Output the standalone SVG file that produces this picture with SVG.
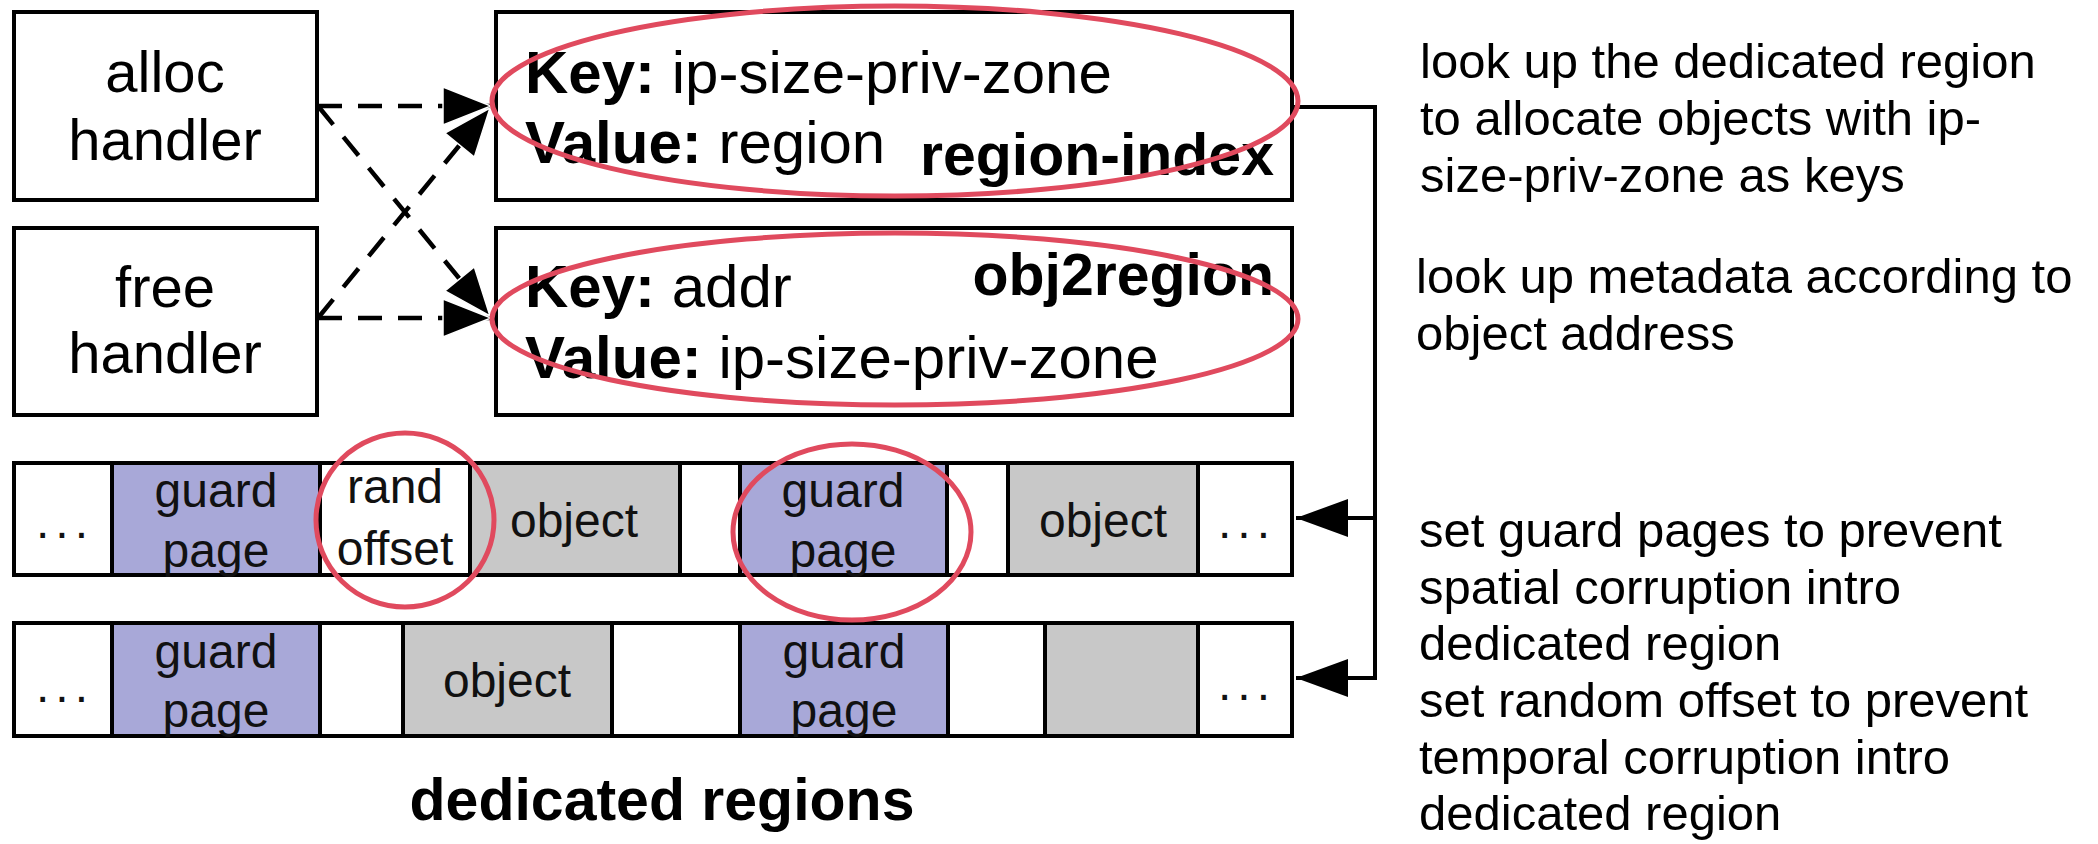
<svg xmlns="http://www.w3.org/2000/svg" width="2098" height="844" viewBox="0 0 2098 844">
  <style>
    .t{font-family:"Liberation Sans",Arial,Helvetica,sans-serif;fill:#000}
    .b{font-weight:bold}
    .h{font-size:58px}
    .k{font-size:60px}
    .c{font-size:48px;fill:#111}
    .n{font-size:49px}
    .box{fill:#fff;stroke:#000;stroke-width:4}
    .w{fill:#fff;stroke:#000;stroke-width:4}
    .g{fill:#c8c8c8;stroke:#000;stroke-width:4}
    .p{fill:#a8a8d8;stroke:#000;stroke-width:4}
    .dash{fill:none;stroke:#000;stroke-width:4.5;stroke-dasharray:24 16}
    .wire{fill:none;stroke:#000;stroke-width:4}
    .mark{fill:none;stroke:#e04a5e;stroke-width:5}
  </style>
  <defs>
    <marker id="tri" markerUnits="userSpaceOnUse" markerWidth="52" markerHeight="42" refX="49" refY="20" orient="auto">
      <path d="M1,1 L49,20 L1,39 z" fill="#000" stroke="#fff" stroke-width="1.5"/>
    </marker>
    <marker id="tri2" markerUnits="userSpaceOnUse" markerWidth="56" markerHeight="42" refX="53" refY="20" orient="auto">
      <path d="M1,1 L53,20 L1,39 z" fill="#000"/>
    </marker>
  </defs>

  <rect width="2098" height="844" fill="#fff"/>

  <!-- handlers -->
  <g id="alloc-handler">
    <rect class="box" x="14" y="12" width="303" height="188"/>
    <text class="t h" x="165" y="92" text-anchor="middle">alloc</text>
    <text class="t h" x="165" y="160" text-anchor="middle">handler</text>
  </g>
  <g id="free-handler">
    <rect class="box" x="14" y="228" width="303" height="187"/>
    <text class="t h" x="165" y="307" text-anchor="middle">free</text>
    <text class="t h" x="165" y="373" text-anchor="middle">handler</text>
  </g>

  <!-- lookup tables -->
  <g id="region-index">
    <rect class="box" x="496" y="12" width="796" height="188"/>
    <text class="t k" x="525" y="93"><tspan class="b">Key:</tspan> ip-size-priv-zone</text>
    <text class="t k" x="525" y="163"><tspan class="b">Value:</tspan> region</text>
    <text class="t b" font-size="59" x="1274" y="175" text-anchor="end">region-index</text>
  </g>
  <g id="obj2region">
    <rect class="box" x="496" y="228" width="796" height="187"/>
    <text class="t b" font-size="59" x="1274" y="295" text-anchor="end">obj2region</text>
    <text class="t k" x="525" y="307"><tspan class="b">Key:</tspan> addr</text>
    <text class="t k" x="525" y="378"><tspan class="b">Value:</tspan> ip-size-priv-zone</text>
  </g>

  <!-- dedicated region 1 -->
  <g id="region-row-1">
    <rect class="w" x="14" y="463" width="98" height="112"/>
    <rect class="p" x="112" y="463" width="208" height="112"/>
    <rect class="w" x="320" y="463" width="150" height="112"/>
    <rect class="g" x="470" y="463" width="210" height="112"/>
    <rect class="w" x="680" y="463" width="60" height="112"/>
    <rect class="p" x="740" y="463" width="207" height="112"/>
    <rect class="w" x="947" y="463" width="61" height="112"/>
    <rect class="g" x="1008" y="463" width="190" height="112"/>
    <rect class="w" x="1198" y="463" width="94" height="112"/>
    <text class="t c" x="65" y="538" text-anchor="middle" letter-spacing="6">...</text>
    <text class="t c" x="216" y="507" text-anchor="middle">guard</text>
    <text class="t c" x="216" y="567" text-anchor="middle">page</text>
    <text class="t c" x="395" y="503" text-anchor="middle">rand</text>
    <text class="t c" x="395" y="565" text-anchor="middle">offset</text>
    <text class="t c" x="574" y="537" text-anchor="middle">object</text>
    <text class="t c" x="843" y="507" text-anchor="middle">guard</text>
    <text class="t c" x="843" y="567" text-anchor="middle">page</text>
    <text class="t c" x="1103" y="537" text-anchor="middle">object</text>
    <text class="t c" x="1247" y="538" text-anchor="middle" letter-spacing="6">...</text>
  </g>

  <!-- dedicated region 2 -->
  <g id="region-row-2">
    <rect class="w" x="14" y="623" width="98" height="113"/>
    <rect class="p" x="112" y="623" width="208" height="113"/>
    <rect class="w" x="320" y="623" width="83" height="113"/>
    <rect class="g" x="403" y="623" width="209" height="113"/>
    <rect class="w" x="612" y="623" width="128" height="113"/>
    <rect class="p" x="740" y="623" width="208" height="113"/>
    <rect class="w" x="948" y="623" width="97" height="113"/>
    <rect class="g" x="1045" y="623" width="153" height="113"/>
    <rect class="w" x="1198" y="623" width="94" height="113"/>
    <text class="t c" x="65" y="702" text-anchor="middle" letter-spacing="6">...</text>
    <text class="t c" x="216" y="668" text-anchor="middle">guard</text>
    <text class="t c" x="216" y="727" text-anchor="middle">page</text>
    <text class="t c" x="507" y="697" text-anchor="middle">object</text>
    <text class="t c" x="844" y="668" text-anchor="middle">guard</text>
    <text class="t c" x="844" y="727" text-anchor="middle">page</text>
    <text class="t c" x="1247" y="700" text-anchor="middle" letter-spacing="6">...</text>
  </g>

  <g id="caption">
    <text class="t b" x="662" y="820" font-size="59" text-anchor="middle">dedicated regions</text>
  </g>

  <!-- connectors -->
  <g id="connectors">
    <line class="dash" x1="318" y1="106" x2="491" y2="106" marker-end="url(#tri)"/>
    <line class="dash" x1="318" y1="318" x2="491" y2="318" marker-end="url(#tri)"/>
    <line class="dash" x1="318" y1="106" x2="490" y2="316" marker-end="url(#tri)"/>
    <line class="dash" x1="318" y1="318" x2="490" y2="108" marker-end="url(#tri)"/>
    <path class="wire" d="M1292,107 H1375 V678 H1296" marker-end="url(#tri2)"/>
    <path class="wire" d="M1375,518 H1296" marker-end="url(#tri2)"/>
  </g>

  <!-- highlights -->
  <g id="highlights">
    <ellipse class="mark" cx="895" cy="101" rx="403" ry="95"/>
    <ellipse class="mark" cx="895" cy="319" rx="403" ry="86"/>
    <ellipse class="mark" cx="405" cy="520" rx="89" ry="87"/>
    <ellipse class="mark" cx="852" cy="532" rx="119" ry="88"/>
  </g>

  <!-- notes -->
  <g id="notes">
    <text class="t n" x="1420" y="78">look up the dedicated region</text>
    <text class="t n" x="1420" y="135">to allocate objects with ip-</text>
    <text class="t n" x="1420" y="192">size-priv-zone as keys</text>
    <text class="t n" x="1416" y="293">look up metadata according to</text>
    <text class="t n" x="1416" y="350">object address</text>
    <text class="t n" x="1419" y="547">set guard pages to prevent</text>
    <text class="t n" x="1419" y="604">spatial corruption intro</text>
    <text class="t n" x="1419" y="660">dedicated region</text>
    <text class="t n" x="1419" y="717">set random offset to prevent</text>
    <text class="t n" x="1419" y="774">temporal corruption intro</text>
    <text class="t n" x="1419" y="830">dedicated region</text>
  </g>
</svg>
